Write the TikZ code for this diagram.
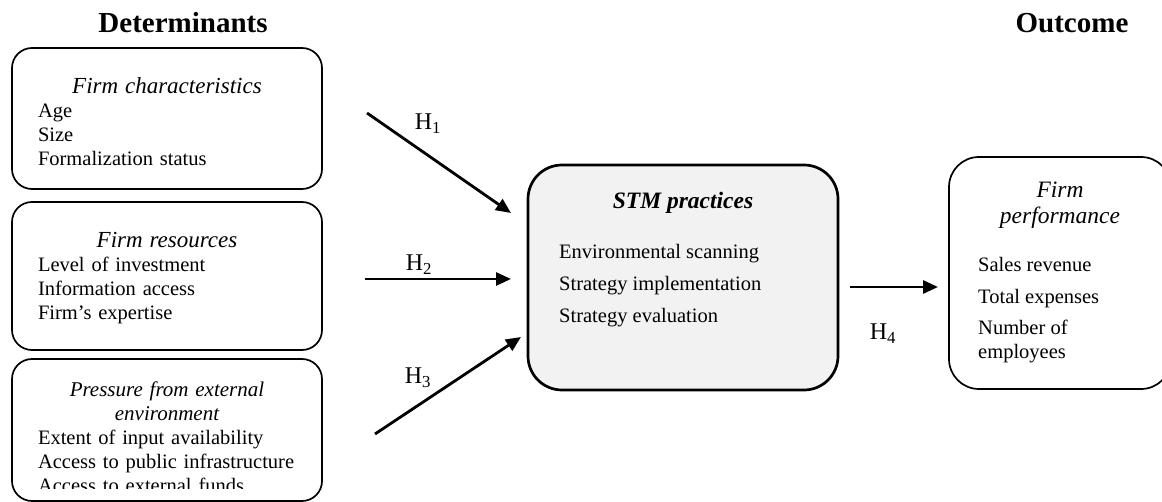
\documentclass[tikz,border=0pt]{standalone}
\usepackage{fontspec}
\setmainfont{Liberation Serif}
\usetikzlibrary{arrows.meta}
\definecolor{stmgray}{RGB}{242,242,242}
\newcommand{\ttlfont}{\fontsize{23}{25}\selectfont\itshape}

\begin{document}
\begin{tikzpicture}[x=1pt,y=-1pt]
\tikzset{
det box/.style={draw,rounded corners=20pt,line width=1.7pt,minimum width=310pt},
stm box/.style={draw,fill=stmgray,rounded corners=34pt,line width=2.7pt,minimum width=310pt,minimum height=225pt},
out box/.style={draw,rounded corners=30pt,line width=1.7pt,minimum width=222pt,minimum height=232pt},
txt/.style={align=left,inner sep=0pt,font=\fontsize{20.5}{24}\selectfont},
head/.style={inner sep=0pt,font=\fontsize{29}{32}\selectfont\bfseries},
hyp/.style={-{Triangle[length=15pt,width=13pt]},line width=2.8pt},
hlab/.style={inner sep=0pt,font=\fontsize{24}{26}\selectfont}
}
\useasboundingbox (0,0) rectangle (1162,502);

\node(dethead)[head] at (183,23) {Determinants};
\node(outhead)[head] at (1072,23) {Outcome};

% determinants
\node(chars)[det box,minimum height=141pt] at (167,118.5) {};
\node(charstxt)[txt,text width=258pt] at (167,122)
    {{\centering\ttlfont Firm characteristics\par}Age\\Size\\Formalization status};
\node(res)[det box,minimum height=148pt] at (167,276) {};
\node(restxt)[txt,text width=258pt] at (167,278)
    {{\centering\ttlfont Firm resources\par}Level of investment\\Information access\\Firm’s expertise};
\node(press)[det box,minimum height=142pt] at (167,430) {};
\begin{scope}
\clip (0,0) rectangle (1162,488);
\node(presstxt)[txt,text width=258pt] at (167,437)
    {{\centering\fontsize{21}{24}\selectfont\itshape Pressure from external\\environment\par}Extent of input availability\\Access to public infrastructure\\Access to external funds};
\end{scope}

% mediator
\node(stm)[stm box] at (683,277.5) {};
\node(stmhead)[txt,font=\fontsize{23.5}{26}\selectfont\bfseries\itshape] at (683,203) {STM practices};
\node(stmtxt)[txt,anchor=west] at (559,286)
    {Environmental scanning\\[8pt]Strategy implementation\\[8pt]Strategy evaluation};

% outcome
\node(perf)[out box] at (1060,273) {};
\node(perfhead)[txt,align=center,font=\fontsize{23.5}{26}\selectfont\itshape] at (1060,205) {Firm\\performance};
\node(perftxt)[txt,anchor=west] at (978,310.5)
    {Sales revenue\\[7.5pt]Total expenses\\[7.5pt]Number of\\employees};

% hypotheses
\coordinate(h1a) at (367,113);
\coordinate(h1b) at (511,213);
\coordinate(h2a) at (365,279);
\coordinate(h2b) at (511,279);
\coordinate(h3a) at (375,434);
\coordinate(h3b) at (521,337);
\coordinate(h4a) at (850,287);
\coordinate(h4b) at (938,287);
\draw[hyp] (h1a) -- (h1b);
\draw[hyp] (h2a) -- (h2b);
\draw[hyp] (h3a) -- (h3b);
\draw[hyp] (h4a) -- (h4b);
\node(l1)[hlab] at (428,124) {H\textsubscript{1}};
\node(l2)[hlab] at (419,265) {H\textsubscript{2}};
\node(l3)[hlab] at (418,378) {H\textsubscript{3}};
\node(l4)[hlab] at (883,334) {H\textsubscript{4}};
\end{tikzpicture}
\end{document}
